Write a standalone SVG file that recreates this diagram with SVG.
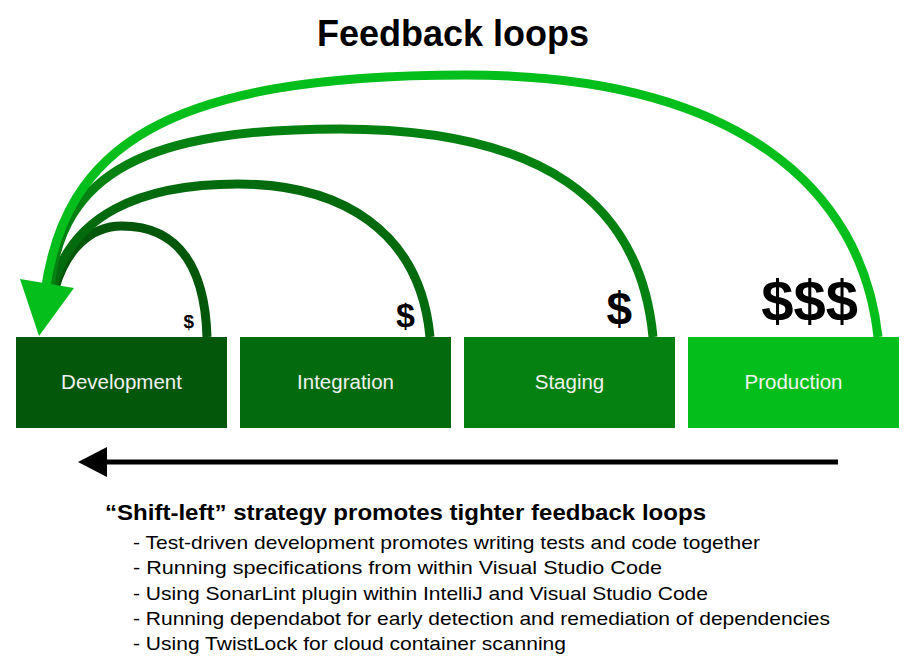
<svg xmlns="http://www.w3.org/2000/svg" width="912" height="669" viewBox="0 0 912 669">
<style>
.box-label{font-family:"Liberation Sans",Arial,Helvetica,sans-serif;font-size:20.5px;fill:#f2f2f2;text-anchor:middle}
.cost{font-family:"Liberation Sans",Arial,Helvetica,sans-serif;font-weight:bold;fill:#000;text-anchor:end}
.arc{fill:none;stroke-width:9;stroke-linecap:butt}
.bullet{font-family:"Liberation Sans",Arial,Helvetica,sans-serif;font-size:19px;fill:#000}
</style>
<rect width="912" height="669" fill="#fff"/>
<text x="453" y="46" font-family="'Liberation Sans',Arial,Helvetica,sans-serif" font-size="36" font-weight="bold" text-anchor="middle" fill="#000">Feedback loops</text>

<g id="connectors">
  <path class="arc" stroke="#03570a" d="M 207 337 C 205 270, 180 226, 122 226 C 90 226, 66 250, 55 288"/>
  <path class="arc" stroke="#036b0d" d="M 430 337 C 420 230, 340 184, 238 184 C 140 184, 70 215, 52 290"/>
  <path class="arc" stroke="#048110" d="M 653 337 C 640 200, 540 129, 340 129 C 150 129, 60 170, 50 290"/>
  <path class="arc" stroke="#04be1b" d="M 878 337 C 862 190, 740 75, 465 75 C 160 75, 65 150, 45 292"/>
  <polygon points="20,279 74,288 39,336" fill="#04be1b"/>
  <line x1="838" y1="462" x2="104" y2="462" stroke="#000" stroke-width="5"/>
  <polygon points="78,462 107,447 107,477" fill="#000"/>
</g>

<g id="development">
  <rect x="16" y="337" width="211" height="91" fill="#03570a"/>
  <text class="box-label" x="121.5" y="389">Development</text>
  <text class="cost" x="194" y="328" font-size="19">$</text>
</g>
<g id="integration">
  <rect x="240" y="337" width="211" height="91" fill="#036b0d"/>
  <text class="box-label" x="345.5" y="389">Integration</text>
  <text class="cost" x="415" y="327" font-size="34">$</text>
</g>
<g id="staging">
  <rect x="464" y="337" width="211" height="91" fill="#048110"/>
  <text class="box-label" x="569.5" y="389">Staging</text>
  <text class="cost" x="632" y="325" font-size="46">$</text>
</g>
<g id="production">
  <rect x="688" y="337" width="211" height="91" fill="#04be1b"/>
  <text class="box-label" x="793.5" y="389">Production</text>
  <text class="cost" x="858" y="321" font-size="58">$$$</text>
</g>

<g id="notes">
  <text x="105" y="520" font-family="'Liberation Sans',Arial,Helvetica,sans-serif" font-size="22" font-weight="bold" fill="#000" textLength="601" lengthAdjust="spacingAndGlyphs">“Shift-left” strategy promotes tighter feedback loops</text>
  <text class="bullet" x="133" y="549" textLength="627" lengthAdjust="spacingAndGlyphs">- Test-driven development promotes writing tests and code together</text>
  <text class="bullet" x="133" y="574" textLength="529" lengthAdjust="spacingAndGlyphs">- Running specifications from within Visual Studio Code</text>
  <text class="bullet" x="133" y="600" textLength="575" lengthAdjust="spacingAndGlyphs">- Using SonarLint plugin within IntelliJ and Visual Studio Code</text>
  <text class="bullet" x="133" y="625" textLength="697" lengthAdjust="spacingAndGlyphs">- Running dependabot for early detection and remediation of dependencies</text>
  <text class="bullet" x="133" y="650" textLength="433" lengthAdjust="spacingAndGlyphs">- Using TwistLock for cloud container scanning</text>
</g>
</svg>
